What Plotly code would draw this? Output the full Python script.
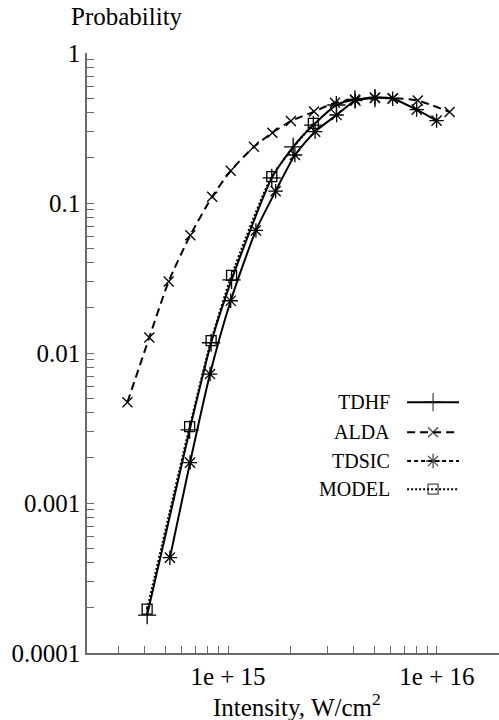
import plotly.graph_objects as go

# ---------------- data ----------------
tdhf_I = [4.1e14, 6.55e14, 8.3e14, 1.04e15, 1.62e15, 2.05e15, 2.56e15, 3.3e15, 4.05e15, 5.05e15]
tdhf_P = [1.79e-4, 3.07e-3, 0.0117, 0.0307, 0.147, 0.237, 0.331, 0.45, 0.49, 0.50]

alda_I = [3.3e14, 4.2e14, 5.2e14, 6.6e14, 8.4e14, 1.03e15, 1.33e15, 1.63e15, 2.0e15,
          2.58e15, 3.25e15, 4.05e15, 5.05e15, 6.15e15, 8.1e15, 1.15e16]
alda_P = [0.0047, 0.0127, 0.030, 0.061, 0.110, 0.164, 0.237, 0.294, 0.352,
          0.407, 0.466, 0.49, 0.50, 0.50, 0.482, 0.404]

tdsic_I = [5.27e14, 6.58e14, 8.2e14, 1.03e15, 1.36e15, 1.69e15, 2.09e15, 2.61e15,
           3.31e15, 4.07e15, 5.05e15, 6.14e15, 8.0e15, 9.96e15]
tdsic_P = [4.32e-4, 1.86e-3, 7.24e-3, 0.0223, 0.0656, 0.120, 0.209, 0.299,
           0.386, 0.481, 0.505, 0.496, 0.419, 0.354]

model_I = [4.1e14, 6.55e14, 8.3e14, 1.04e15, 1.62e15, 2.56e15]
model_P = [1.96e-4, 3.23e-3, 0.0121, 0.0329, 0.150, 0.34]

series_names = ["TDHF", "ALDA", "TDSIC", "MODEL"]

x_major = [1e15, 1e16]
x_major_text = ["1e + 15", "1e + 16"]
y_major = [1e-4, 1e-3, 1e-2, 1e-1, 1]
y_major_text = ["0.0001", "0.001", "0.01", "0.1", "1"]

x_title = "Intensity, W/cm<sup>2</sup>"
y_title = "Probability"

# ---------------- ticks ----------------
x_minor = [m * 1e14 for m in range(3, 10)] + [m * 1e15 for m in range(2, 10)]
y_minor = [m * d for d in (1e-4, 1e-3, 1e-2, 1e-1) for m in range(2, 10)]
x_tickvals = x_minor + x_major
x_ticktext = [""] * len(x_minor) + x_major_text
y_tickvals = y_minor + y_major
y_ticktext = [""] * len(y_minor) + y_major_text

FONT = "Liberation Serif"
BLK = "#000000"
AX = "#6a6a6a"

styles = {
    "TDHF": dict(dash="solid", symbol="cross-thin-open", size=13),
    "ALDA": dict(dash="8px,5px", symbol="x-thin-open", size=10),
    "TDSIC": dict(dash="4px,3px", symbol="asterisk-open", size=12),
    "MODEL": dict(dash="2px,2px", symbol="square-open", size=10),
}
data = {
    "TDHF": (tdhf_I, tdhf_P, "solid"),
    "ALDA": (alda_I, alda_P, "8px,5px"),
    "TDSIC": (tdsic_I, tdsic_P, "solid"),
    "MODEL": (model_I, model_P, "2px,2px"),
}

fig = go.Figure()
for name in ["MODEL", "ALDA", "TDHF", "TDSIC"]:
    xs, ys, dash = data[name]
    st = styles[name]
    fig.add_trace(go.Scatter(
        x=xs, y=ys, mode="lines+markers", name=name, showlegend=False,
        line=dict(color=BLK, width=2, dash=dash, shape="spline", smoothing=0.6),
        marker=dict(symbol=st["symbol"], size=st["size"], color=BLK,
                    line=dict(color=BLK, width=1.3)),
    ))

# ---------------- legend (text left of sample) ----------------
leg_rows = [0.418, 0.368, 0.320, 0.273]
lx0, lx1 = 0.777, 0.903
for name, yr in zip(series_names, leg_rows):
    st = styles[name]
    fig.add_trace(go.Scatter(
        x=[lx0, (lx0 + lx1) / 2, lx1], y=[yr, yr, yr], xaxis="x2", yaxis="y2",
        mode="lines+markers", showlegend=False, hoverinfo="skip",
        line=dict(color=BLK, width=2, dash=st["dash"]),
        marker=dict(symbol=st["symbol"], size=[0, st["size"], 0], color=BLK,
                    line=dict(color=BLK, width=1.3)),
    ))
    fig.add_annotation(x=0.74, y=yr, xref="paper", yref="paper", text=name,
                       showarrow=False, xanchor="right", yanchor="middle",
                       font=dict(family=FONT, size=20, color=BLK))

fig.add_annotation(x=-0.044, y=1.06, xref="paper", yref="paper", text=y_title,
                   showarrow=False, xanchor="left", yanchor="middle",
                   font=dict(family=FONT, size=25, color=BLK))
fig.add_annotation(x=0.51, y=-0.087, xref="paper", yref="paper", text=x_title,
                   showarrow=False, xanchor="center", yanchor="middle",
                   font=dict(family=FONT, size=25, color=BLK))

fig.update_layout(
    width=499, height=720,
    margin=dict(l=87, r=0, t=53, b=67),
    paper_bgcolor="white", plot_bgcolor="white",
    font=dict(family=FONT, size=25, color=BLK),
    xaxis=dict(type="log", range=[14.325, 16.297], showgrid=False, zeroline=False,
               showline=True, linecolor=AX, linewidth=1.5,
               ticks="inside", ticklen=7, tickwidth=1.2, tickcolor=AX,
               tickvals=x_tickvals, ticktext=x_ticktext,
               tickfont=dict(family=FONT, size=25, color=BLK)),
    yaxis=dict(type="log", range=[-4, 0], showgrid=False, zeroline=False,
               showline=True, linecolor=AX, linewidth=1.5,
               ticks="inside", ticklen=7, tickwidth=1.2, tickcolor=AX,
               tickvals=y_tickvals, ticktext=y_ticktext,
               tickfont=dict(family=FONT, size=25, color=BLK)),
    xaxis2=dict(overlaying="x", range=[0, 1], visible=False, domain=[0, 1]),
    yaxis2=dict(overlaying="y", range=[0, 1], visible=False),
    showlegend=False,
)

fig.write_html("out.html", config={"displayModeBar": False},
               post_script="document.body.style.margin='0';")
